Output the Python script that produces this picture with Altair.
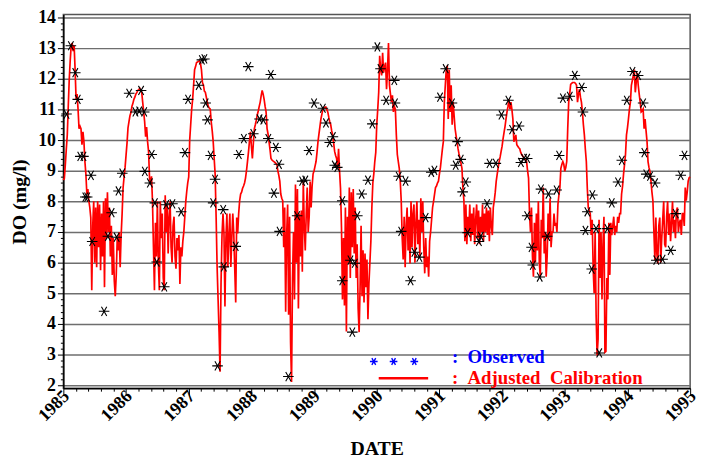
import altair as alt
import pandas as pd

# ---------------- data ----------------
sim_years = list(range(1985, 1995))
steps_per_year = 64  # simulated series sampled every 1/64 year

do_1985 = [8.7, 8.75, 9.2, 9.7, 10.17, 11.1, 11.98, 12.6,
           13.08, 13.17, 12.9, 13.08, 12.3, 11.33, 11.5, 11.01,
           10.37, 10.45, 10.37, 9.85, 10.27, 9.95, 9.3, 8.89,
           8.24, 8.4, 8.02, 7.8, 7.47, 5.1, 7.2, 8.0,
           6.0, 7.8, 5.85, 8.0, 6.5, 7.9, 5.75, 7.6,
           6.2, 8.0, 5.2, 8.1, 6.8, 8.3, 7.0, 7.8,
           6.2, 7.2, 5.6, 6.8, 5.4, 4.9, 5.6, 6.8,
           6.4, 7.0, 5.85, 6.9, 7.6, 8.45, 8.8, 9.1]
do_1986 = [9.5, 9.9, 10.4, 10.6, 10.8, 10.9, 11.1, 11.2,
           11.33, 11.4, 11.5, 11.55, 11.62, 11.65, 11.69, 11.6,
           11.56, 11.24, 10.92, 10.6, 10.11, 10.43, 9.95, 9.63,
           8.76, 8.56, 8.82, 8.02, 6.5, 5.1, 7.3, 6.2,
           8.0, 6.0, 5.1, 8.0, 6.8, 7.6, 5.5, 5.1,
           8.2, 7.0, 7.9, 6.3, 7.5, 8.0, 6.5, 6.0,
           7.2, 7.5, 6.2, 5.8, 6.8, 6.4, 6.9, 5.3,
           6.5, 6.2, 6.7, 7.0, 7.5, 8.0, 8.33, 8.6]
do_1987 = [8.8, 10.0, 10.5, 11.0, 11.33, 11.8, 12.3, 12.4,
           12.53, 12.55, 12.57, 12.59, 12.5, 12.3, 11.88, 11.8,
           11.6, 11.56, 11.4, 11.24, 11.1, 11.05, 11.01, 10.59,
           10.3, 9.95, 9.4, 8.88, 7.47, 5.86, 4.79, 3.73,
           2.44, 5.34, 6.9, 7.6, 6.95, 4.57, 6.8, 7.6,
           5.86, 6.9, 7.6, 5.86, 6.8, 7.6, 6.95, 5.8,
           4.7, 7.47, 6.95, 7.6, 8.02, 8.24, 8.3, 8.43,
           8.5, 8.6, 8.76, 9.0, 9.3, 9.6, 9.95, 10.27]
do_1988 = [9.8, 9.4, 9.9, 10.37, 10.5, 10.65, 10.82, 10.95,
           11.1, 11.24, 11.45, 11.62, 11.5, 11.33, 11.1, 10.92,
           10.37, 10.2, 9.95, 9.7, 9.4, 9.35, 9.32, 9.3,
           9.27, 9.24, 9.21, 9.0, 8.85, 8.66, 8.24, 8.1,
           8.02, 6.5, 7.8, 4.4, 6.9, 7.9, 4.3, 7.5,
           3.4, 2.1, 5.5, 7.0, 4.8, 8.55, 6.0, 8.4,
           4.5, 7.6, 6.2, 7.7, 5.7, 8.65, 7.2, 6.4,
           7.6, 8.45, 7.0, 7.5, 8.65, 7.8, 8.5, 8.9]
do_1989 = [9.0, 9.15, 9.3, 9.6, 9.95, 10.2, 10.45, 10.69,
           10.85, 11.01, 11.05, 11.07, 11.08, 11.0, 10.92, 10.75,
           10.6, 10.5, 10.3, 10.17, 9.9, 9.63, 9.5, 9.4,
           9.08, 9.72, 9.0, 8.43, 7.15, 4.8, 6.8, 4.6,
           7.8, 3.75, 7.5, 6.0, 8.45, 5.5, 8.3, 6.5,
           8.4, 6.3, 7.8, 5.5, 6.6, 4.5, 3.73, 5.2,
           7.2, 4.9, 6.4, 4.7, 6.3, 5.2, 6.1, 4.15,
           5.3, 6.0, 6.7, 7.8, 8.6, 8.9, 9.3, 9.6]
do_1990 = [10.5, 11.0, 11.56, 12.75, 12.3, 12.11, 12.85, 12.2,
           12.4, 12.53, 11.66, 12.3, 13.17, 11.79, 11.5, 11.24,
           11.46, 10.92, 11.1, 11.01, 10.17, 9.53, 9.3, 9.08,
           8.66, 8.02, 6.8, 6.1, 7.5, 5.85, 7.2, 7.8,
           6.4, 7.5, 5.97, 8.0, 6.5, 7.6, 7.9, 6.0,
           7.3, 8.0, 6.6, 7.4, 6.2, 8.1, 7.0, 8.0,
           6.5, 5.65, 6.8, 5.85, 6.2, 5.54, 6.7, 7.0,
           7.4, 7.8, 8.0, 8.23, 8.45, 8.5, 8.6, 8.66]
do_1991 = [8.9, 9.1, 9.4, 9.7, 9.95, 11.24, 11.8, 12.3,
           12.43, 10.69, 12.3, 10.92, 11.79, 10.5, 11.24, 10.8,
           10.37, 10.15, 9.95, 9.72, 9.55, 9.4, 9.25, 9.08,
           8.43, 8.02, 6.7, 7.9, 6.6, 7.5, 7.0, 7.9,
           6.7, 7.6, 6.9, 7.8, 6.6, 7.4, 7.9, 6.8,
           7.7, 6.6, 7.5, 7.0, 7.9, 6.7, 7.6, 7.0,
           7.8, 6.9, 7.7, 6.7, 7.8, 7.2, 6.9, 7.8,
           8.02, 8.3, 8.66, 8.89, 9.1, 9.3, 9.45, 9.63]
do_1992 = [9.8, 10.05, 10.25, 10.45, 10.69, 10.92, 11.1, 11.33,
           11.01, 11.24, 11.0, 10.69, 9.95, 10.05, 10.17, 9.85,
           9.8, 9.75, 9.72, 9.6, 9.53, 9.48, 9.44, 9.4,
           9.35, 9.3, 9.0, 8.76, 7.6, 7.0, 7.8, 6.2,
           5.54, 7.3, 6.0, 7.6, 6.4, 8.0, 6.0, 5.54,
           7.4, 6.8, 8.45, 6.3, 7.0, 5.54, 6.2, 7.6,
           6.8, 8.1, 6.5, 7.0, 7.0, 7.6, 7.2, 7.3,
           7.0, 7.9, 8.2, 8.45, 9.08, 9.2, 9.3, 9.21]
do_1993 = [8.98, 9.1, 9.3, 10.37, 11.24, 11.5, 11.82, 11.85,
           11.88, 11.88, 11.88, 11.85, 11.79, 11.24, 11.5, 11.66,
           11.4, 11.24, 10.92, 10.5, 10.17, 9.7, 9.3, 8.43,
           7.79, 7.7, 7.6, 6.9, 7.4, 5.8, 5.0, 7.0,
           4.3, 2.97, 3.5, 7.4, 5.5, 7.0, 4.8, 6.6,
           7.5, 3.07, 3.1, 5.5, 4.8, 7.3, 5.6, 7.3,
           6.9, 7.2, 7.5, 6.9, 7.2, 7.0, 7.5, 7.3,
           7.6, 7.6, 8.24, 8.5, 8.89, 9.2, 9.53, 10.17]
do_1994 = [10.4, 10.69, 11.0, 11.24, 11.79, 11.95, 12.11, 12.3,
           11.56, 11.9, 12.2, 11.79, 11.5, 11.24, 10.92, 10.95,
           11.01, 10.37, 10.69, 10.3, 9.95, 9.3, 9.1, 8.98,
           8.66, 8.3, 8.02, 7.0, 6.08, 7.47, 6.3, 5.97,
           7.2, 7.47, 6.0, 6.8, 7.4, 8.0, 6.6, 6.5,
           7.5, 8.0, 6.9, 7.6, 6.7, 7.3, 8.0, 7.0,
           7.4, 6.8, 7.7, 7.8, 7.0, 7.3, 7.4, 6.9,
           7.6, 7.6, 7.2, 8.45, 8.02, 8.3, 8.66, 8.77]
do_end_1995 = 8.8

obs_year = [1985.05, 1985.12, 1985.19, 1985.23, 1985.27, 1985.32, 1985.35, 1985.38,
            1985.44, 1985.46, 1985.65, 1985.71, 1985.77, 1985.85, 1985.88, 1985.94,
            1986.05, 1986.15, 1986.21, 1986.24, 1986.29, 1986.30, 1986.38, 1986.41,
            1986.46, 1986.49, 1986.61, 1986.64, 1986.74, 1986.88, 1986.94, 1986.99,
            1987.16, 1987.21, 1987.25, 1987.27, 1987.30, 1987.35, 1987.39, 1987.42,
            1987.46, 1987.55, 1987.56, 1987.75, 1987.80, 1987.88, 1987.95,
            1988.03, 1988.13, 1988.19, 1988.27, 1988.31, 1988.36, 1988.39, 1988.44,
            1988.45, 1988.59, 1988.73, 1988.81, 1988.86, 1988.92,
            1989.00, 1989.14, 1989.19, 1989.25, 1989.30, 1989.33, 1989.37, 1989.45,
            1989.45, 1989.58, 1989.61, 1989.65, 1989.69, 1989.76, 1989.86, 1989.93,
            1990.01, 1990.06, 1990.15, 1990.28, 1990.29, 1990.35, 1990.39, 1990.46,
            1990.54, 1990.60, 1990.68, 1990.78, 1990.87, 1990.92,
            1991.01, 1991.10, 1991.20, 1991.26, 1991.29, 1991.34, 1991.37, 1991.42,
            1991.45, 1991.63, 1991.66, 1991.76, 1991.80, 1991.90, 1991.99,
            1992.10, 1992.16, 1992.27, 1992.30, 1992.35, 1992.40, 1992.40, 1992.47,
            1992.49, 1992.60, 1992.62, 1992.72, 1992.74, 1992.87, 1992.91, 1992.97,
            1993.08, 1993.16, 1993.27, 1993.29, 1993.33, 1993.36, 1993.43, 1993.44,
            1993.50, 1993.55, 1993.68, 1993.75, 1993.85, 1993.91, 1993.99,
            1994.08, 1994.17, 1994.25, 1994.27, 1994.30, 1994.36, 1994.44, 1994.46,
            1994.56, 1994.69, 1994.77, 1994.85, 1994.91]
obs_do = [10.85, 13.08, 12.2, 11.33, 9.47, 9.47, 8.14, 8.14,
          8.85, 6.69, 4.41, 6.86, 7.63, 6.83, 8.34, 8.92,
          11.53, 10.92, 10.95, 11.62, 10.92, 8.98, 8.6, 9.53,
          7.95, 6.02, 5.21, 7.89, 7.92, 7.66, 9.59, 11.33,
          11.79, 12.62, 12.65, 11.21, 10.66, 9.5, 7.95, 8.72,
          2.63, 7.73, 5.86, 6.53, 9.53, 10.05, 12.4,
          10.21, 10.69, 10.66, 10.05, 12.14, 8.27, 9.76, 9.21,
          7.02, 2.28, 7.53, 8.66, 8.69, 9.66,
          11.21, 11.04, 10.56, 9.92, 10.11, 9.18, 9.11, 8.02,
          5.41, 6.08, 3.73, 5.98, 7.53, 8.24, 8.69, 10.53,
          13.04, 12.33, 11.3, 11.95, 11.21, 8.82, 7.02, 8.66,
          5.41, 6.34, 6.18, 7.47, 8.95, 9.01,
          11.4, 12.33, 11.21, 9.18, 9.95, 9.37, 8.31, 8.63,
          6.98, 6.69, 6.86, 7.92, 9.24, 9.24, 10.82,
          11.3, 10.34, 10.46, 9.27, 9.4, 9.4, 7.53, 6.5,
          5.92, 5.53, 8.4, 6.86, 8.24, 8.37, 9.5, 11.37,
          11.43, 12.11, 11.72, 10.92, 7.05, 7.66, 5.79, 8.21,
          7.11, 3.05, 7.11, 7.95, 8.63, 9.34, 11.3,
          12.24, 12.11, 11.21, 9.59, 8.89, 8.82, 8.6, 6.08,
          6.11, 6.4, 7.6, 8.85, 9.5]

legend_observed = ":\u00a0\u00a0Observed"
legend_adjusted = ":\u00a0\u00a0Adjusted\u00a0\u00a0Calibration"

# ---------------- tables ----------------
sim_lists = [do_1985, do_1986, do_1987, do_1988, do_1989,
             do_1990, do_1991, do_1992, do_1993, do_1994]
rows = []
for yr, vals in zip(sim_years, sim_lists):
    for i, v in enumerate(vals):
        rows.append({"t": yr + i / steps_per_year, "v": v})
rows.append({"t": 1995.0, "v": do_end_1995})
line_df = pd.DataFrame(rows)
obs_df = pd.DataFrame({"t": obs_year, "v": obs_do})
one = pd.DataFrame({"k": [0]})

# ---------------- styling ----------------
FONT = "Liberation Serif"
is_int = "abs(datum.value - round(datum.value)) < 0.001"
x_ticks = [round(1985 + 0.2 * k, 1) for k in range(51)]
y_ticks = [round(2 + 0.2 * k, 1) for k in range(61)]
ASTER = "M-1,0L1,0M-0.5,-0.866L0.5,0.866M-0.5,0.866L0.5,-0.866"

x_enc = alt.X(
    "t:Q",
    scale=alt.Scale(domain=[1985, 1995], nice=False, zero=False),
    axis=alt.Axis(
        values=x_ticks, tickCount=200,
        labelExpr=f"{is_int} ? format(datum.value, 'd') : ''",
        labelAngle=-45, labelAlign="right", labelBaseline="middle",
        labelFont=FONT, labelFontWeight="bold", labelFontSize=18,
        labelColor="black", labelOverlap=False, labelFlush=False,
        labelPadding=-2, labelOffset=3,
        tickSize={"condition": {"test": is_int, "value": 7}, "value": 3},
        tickColor="black", tickWidth=1,
        domainColor="black", domainWidth=1.5, grid=False,
        title="DATE", titleFont=FONT, titleFontSize=20, titleFontWeight="bold",
        titleColor="black", titlePadding=14,
    ),
)
y_enc = alt.Y(
    "v:Q",
    scale=alt.Scale(domain=[1.9, 14.1], nice=False, zero=False),
    axis=alt.Axis(
        values=y_ticks, tickCount=200,
        labelExpr=f"{is_int} ? format(datum.value, 'd') : ''",
        labelFont=FONT, labelFontWeight="bold", labelFontSize=18,
        labelColor="black", labelOverlap=False, labelFlush=False, labelPadding=2,
        tickSize={"condition": {"test": is_int, "value": 6}, "value": 3},
        tickColor="black", tickWidth=1,
        domainColor="black", domainWidth=1.5,
        grid=True, gridColor="#6e6e6e", gridWidth=1.5,
        gridOpacity={"condition": {"test": is_int, "value": 1}, "value": 0},
        title="DO (mg/l)", titleFont=FONT, titleFontSize=20, titleFontWeight="bold",
        titleColor="black", titlePadding=8,
    ),
)

line = alt.Chart(line_df).mark_line(color="#ff0000", strokeWidth=1.7).encode(x=x_enc, y=y_enc)
pts = alt.Chart(obs_df).mark_point(
    shape=ASTER, size=115, filled=False, color="black", strokeWidth=1.1, opacity=1
).encode(x="t:Q", y="v:Q")

leg_layers = []
for xp in (314, 334, 355):
    leg_layers.append(
        alt.Chart(one).mark_point(shape=ASTER, size=60, filled=False, color="#0000ff",
                                  strokeWidth=1.4, opacity=1)
        .encode(x=alt.value(xp), y=alt.value(351))
    )
leg_layers.append(
    alt.Chart(one).mark_rule(color="#ff0000", strokeWidth=2.5)
    .encode(x=alt.value(319), x2=alt.value(369), y=alt.value(368))
)
leg_layers.append(
    alt.Chart(one).mark_text(text=legend_observed, font=FONT, fontWeight="bold", fontSize=19,
                             color="#0000ff", align="left", baseline="middle")
    .encode(x=alt.value(393), y=alt.value(347))
)
leg_layers.append(
    alt.Chart(one).mark_text(text=legend_adjusted, font=FONT, fontWeight="bold", fontSize=19,
                             color="#ff0000", align="left", baseline="middle")
    .encode(x=alt.value(393), y=alt.value(368))
)

chart = alt.layer(line, pts, *leg_layers).properties(
    width=634, height=378,
    autosize=alt.AutoSizeParams(type="none"),
    padding={"left": 56, "top": 4, "right": 12, "bottom": 68},
).configure_view(stroke="#555555", strokeWidth=1.5)

chart.save("out.html", embed_options={"renderer": "svg", "actions": False})
